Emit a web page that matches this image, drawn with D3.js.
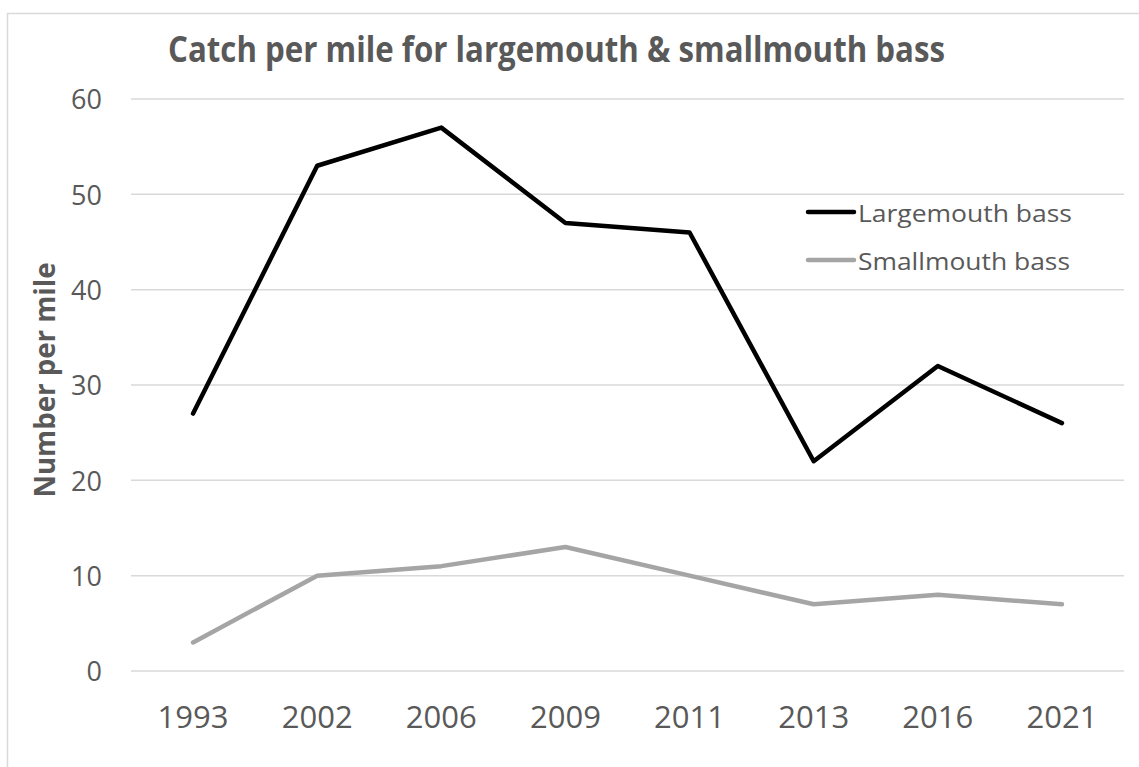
<!DOCTYPE html>
<html>
<head>
<meta charset="utf-8">
<script src="https://cdn.jsdelivr.net/npm/d3@7"></script>
<style>
  html, body { margin: 0; padding: 0; background: #fff; }
  svg { display: block; }
  text { font-family: "Open Sans", "Noto Sans", sans-serif; fill: #595959; }
</style>
</head>
<body>
<svg id="chart" width="1139" height="767"></svg>
<script>
// Survey years and catch per mile for each species
const years = ["1993", "2002", "2006", "2009", "2011", "2013", "2016", "2021"];
const largemouth = [27, 53, 57, 47, 46, 22, 32, 26];
const smallmouth = [3, 10, 11, 13, 10, 7, 8, 7];
const yTicks = [0, 10, 20, 30, 40, 50, 60];
const seriesNames = ["Largemouth bass", "Smallmouth bass"];
const seriesColors = ["#000000", "#a5a5a5"];

const svg = d3.select("#chart");

// chart frame
svg.append("rect")
  .attr("x", 7.5).attr("y", 13.5)
  .attr("width", 1200).attr("height", 800)
  .attr("fill", "#fff").attr("stroke", "#d9d9d9").attr("stroke-width", 1.5);

const plot = { left: 131, right: 1124, top: 99, bottom: 671 };

const x = d3.scaleBand().domain(years).range([plot.left, plot.right]);
const y = d3.scaleLinear().domain([0, 60]).range([plot.bottom, plot.top]);

// horizontal gridlines
svg.append("g")
  .selectAll("line")
  .data(yTicks)
  .join("line")
  .attr("x1", plot.left).attr("x2", plot.right)
  .attr("y1", d => y(d)).attr("y2", d => y(d))
  .attr("stroke", "#d9d9d9").attr("stroke-width", 1.5);

// y axis labels
const yAxis = svg.append("g")
  .attr("transform", `translate(${plot.left - 29},0)`)
  .call(d3.axisLeft(y).tickValues(yTicks).tickSize(0).tickPadding(0));
yAxis.select(".domain").remove();
yAxis.selectAll("text")
  .style("font-family", "'Open Sans', sans-serif")
  .style("font-size", "27px")
  .attr("dy", "0.36em")
  .attr("fill", "#595959");

// x axis labels
const xAxis = svg.append("g")
  .attr("transform", `translate(0,${plot.bottom})`)
  .call(d3.axisBottom(x).tickSize(0).tickPadding(0));
xAxis.select(".domain").remove();
xAxis.selectAll("text")
  .style("font-family", "'Open Sans', sans-serif")
  .style("font-size", "31px")
  .attr("y", 57)
  .attr("dy", 0)
  .attr("fill", "#595959");

// series lines
const line = d3.line()
  .x((d, i) => x(years[i]) + x.bandwidth() / 2)
  .y(d => y(d));

[largemouth, smallmouth].forEach((vals, k) => {
  svg.append("path")
    .datum(vals)
    .attr("d", line)
    .attr("fill", "none")
    .attr("stroke", seriesColors[k])
    .attr("stroke-width", 4.5)
    .attr("stroke-linejoin", "round")
    .attr("stroke-linecap", "round");
});

// legend
const legend = svg.append("g");
const legendWidths = [214, 212];
seriesNames.forEach((name, k) => {
  const ly = 212 + k * 48;
  legend.append("line")
    .attr("x1", 808).attr("x2", 854)
    .attr("y1", ly).attr("y2", ly)
    .attr("stroke", seriesColors[k]).attr("stroke-width", 4.5)
    .attr("stroke-linecap", "round");
  legend.append("text")
    .attr("x", 858).attr("y", ly + 10)
    .attr("textLength", legendWidths[k])
    .attr("lengthAdjust", "spacingAndGlyphs")
    .style("font-size", "24px")
    .text(name);
});

// chart title
svg.append("text")
  .attr("x", 168).attr("y", 62)
  .attr("textLength", 777)
  .attr("lengthAdjust", "spacingAndGlyphs")
  .style("font-size", "36px")
  .style("font-weight", "bold")
  .text("Catch per mile for largemouth & smallmouth bass");

// y axis title
svg.append("text")
  .attr("transform", "translate(55,380) rotate(-90)")
  .attr("text-anchor", "middle")
  .attr("textLength", 235)
  .attr("lengthAdjust", "spacingAndGlyphs")
  .style("font-size", "29px")
  .style("font-weight", "bold")
  .text("Number per mile");
</script>
</body>
</html>
